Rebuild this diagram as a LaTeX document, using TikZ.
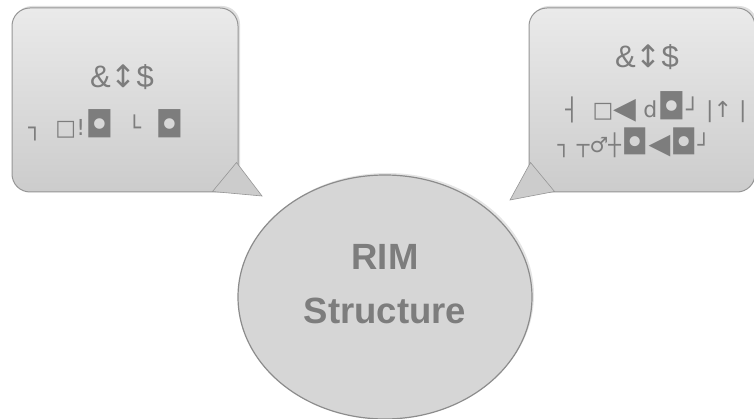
\documentclass[tikz,border=0pt]{standalone}
\usepackage{fontspec}
\setmainfont{Liberation Sans}
\newfontfamily\symfont{DejaVu Sans}
\usetikzlibrary{calc,shadows,shapes.geometric}
\definecolor{txtgray}{RGB}{125,125,125}
\definecolor{boxedge}{RGB}{150,150,150}
\definecolor{boxtop}{RGB}{234,234,234}
\definecolor{boxbot}{RGB}{204,204,204}
\definecolor{circfill}{RGB}{214,214,214}
\definecolor{circedge}{RGB}{140,140,140}
\newcommand\bsq{\raisebox{-0.1em}{\scalebox{1.65}{◘}}}
\newcommand\btri{\raisebox{-0.05em}{\scalebox{1.35}{◀}}}
\tikzset{
  callout/.style={draw=boxedge, line width=1pt, rounded corners=18pt,
    top color=boxtop, bottom color=boxbot, minimum width=226pt, minimum height=184pt,
    drop shadow={opacity=0.25, shadow xshift=2pt, shadow yshift=2pt}},
  tail/.style={fill=boxbot, draw=boxedge, line width=0.6pt},
  symtext/.style={text=txtgray, font=\symfont, inner sep=0pt},
  bigcirc/.style={ellipse, draw=circedge, line width=1.2pt, fill=circfill,
    minimum width=294pt, minimum height=244pt,
    drop shadow={opacity=0.2, shadow xshift=2pt, shadow yshift=2pt}},
}
\begin{document}
\begin{tikzpicture}[x=1pt,y=-1pt]
\useasboundingbox (0,0) rectangle (754,419);
\fill[white] (0,0) rectangle (754,419);
\coordinate (ltip) at (262,196);
\coordinate (rtip) at (510,200);
\node[callout] (lbox) at (125,100) {};
\node[callout] (rbox) at (642,100) {};
\node[bigcirc] (circ) at (385,297) {};
\fill[tail] ($(lbox.south east)+(-26,-1)$) -- (ltip) -- ($(lbox.south east)+(-2,-30)$) -- cycle;
\fill[tail] ($(rbox.south west)+(26,-1)$) -- (rtip) -- ($(rbox.south west)+(2,-30)$) -- cycle;
\node[font=\bfseries\fontsize{36.5}{54}\selectfont, text=txtgray, align=center] (ctext) at (385,284) {RIM\\Structure};
% left box text
\node[text=txtgray, inner sep=0pt, font=\fontsize{31}{33}\selectfont] (l1) at (122,77) {\&{\symfont↕}\$};
\node[symtext, font=\symfont\fontsize{22}{24}\selectfont] (l2) at (106,125) {┐\ \ □!\bsq\ \ └\ \ \bsq};
% right box text
\node[text=txtgray, inner sep=0pt, font=\fontsize{31}{33}\selectfont] (r1) at (647,57) {\&{\symfont↕}\$};
\node[symtext, font=\symfont\fontsize{22}{24}\selectfont] (r2) at (656,107) {┤\ \ □\btri\ d\bsq┘\ |↑\ |};
\node[symtext, font=\symfont\fontsize{21}{24}\selectfont] (r3) at (634,143) {┐\ ┬♂┼\bsq\btri\bsq┘};
\end{tikzpicture}
\end{document}
